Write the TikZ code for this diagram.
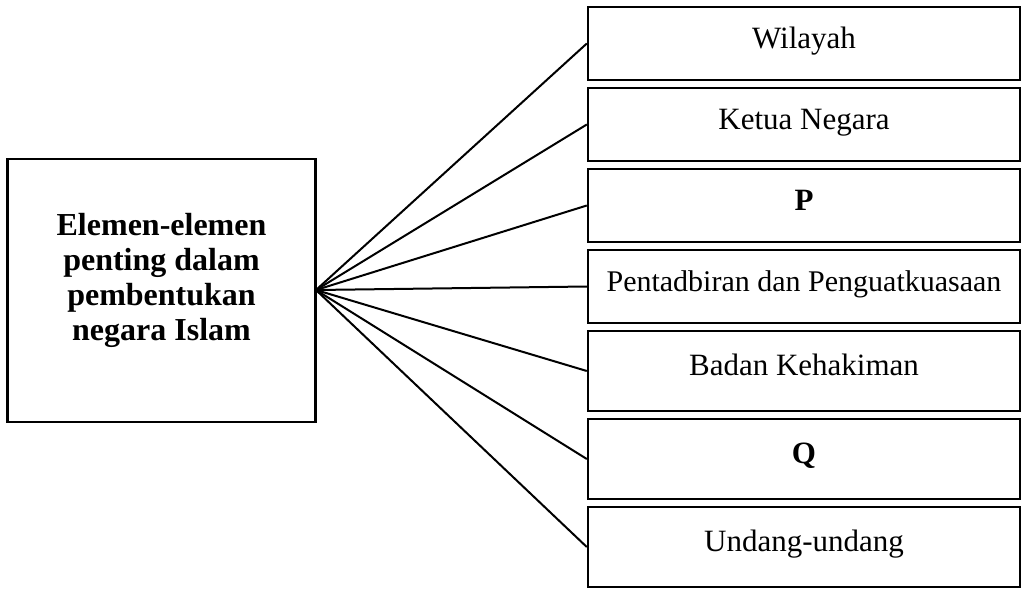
\documentclass[tikz,border=0pt]{standalone}
\usepackage{fontspec}
\setmainfont{Liberation Serif}
\usetikzlibrary{positioning}

\begin{document}
\begin{tikzpicture}[x=1pt, y=-1pt, line width=2pt,
		elembox/.style={draw, line width=2.4pt, minimum width=432pt, minimum height=73pt,
			inner sep=0pt, font=\fontsize{31}{35}\selectfont, text height=20pt, text depth=11pt},
		tallbox/.style={elembox, minimum height=80pt},
		mainbox/.style={draw, line width=2.4pt, minimum width=308pt, minimum height=263pt,
			align=center, font=\fontsize{32}{35}\selectfont\bfseries}]
		\useasboundingbox (0,0) rectangle (1024,589);
		\node[mainbox] (utama) at (161.5,290.5) {Elemen-elemen\\penting dalam\\pembentukan\\negara Islam\\[-8pt]\mbox{}};
		\coordinate (hub) at (316,290);
		\node[elembox] (wilayah) at (804,43.5) {Wilayah};
		\node[elembox, below=5.6pt of wilayah] (ketua) {Ketua Negara};
		\node[elembox, below=5.6pt of ketua] (p) {\textbf{P}};
		\node[elembox, below=5.6pt of p, font=\fontsize{30}{35}\selectfont] (pentadbiran) {Pentadbiran dan Penguatkuasaan};
		\node[tallbox, below=5.6pt of pentadbiran] (badan) {Badan Kehakiman};
		\node[tallbox, below=5.6pt of badan] (q) {\textbf{Q}};
		\node[tallbox, below=5.6pt of q] (undang) {Undang-undang};
		\foreach \n in {wilayah, ketua, p, pentadbiran, badan, q, undang}
			\draw (hub) -- (\n.west);
	\end{tikzpicture}
\end{document}
